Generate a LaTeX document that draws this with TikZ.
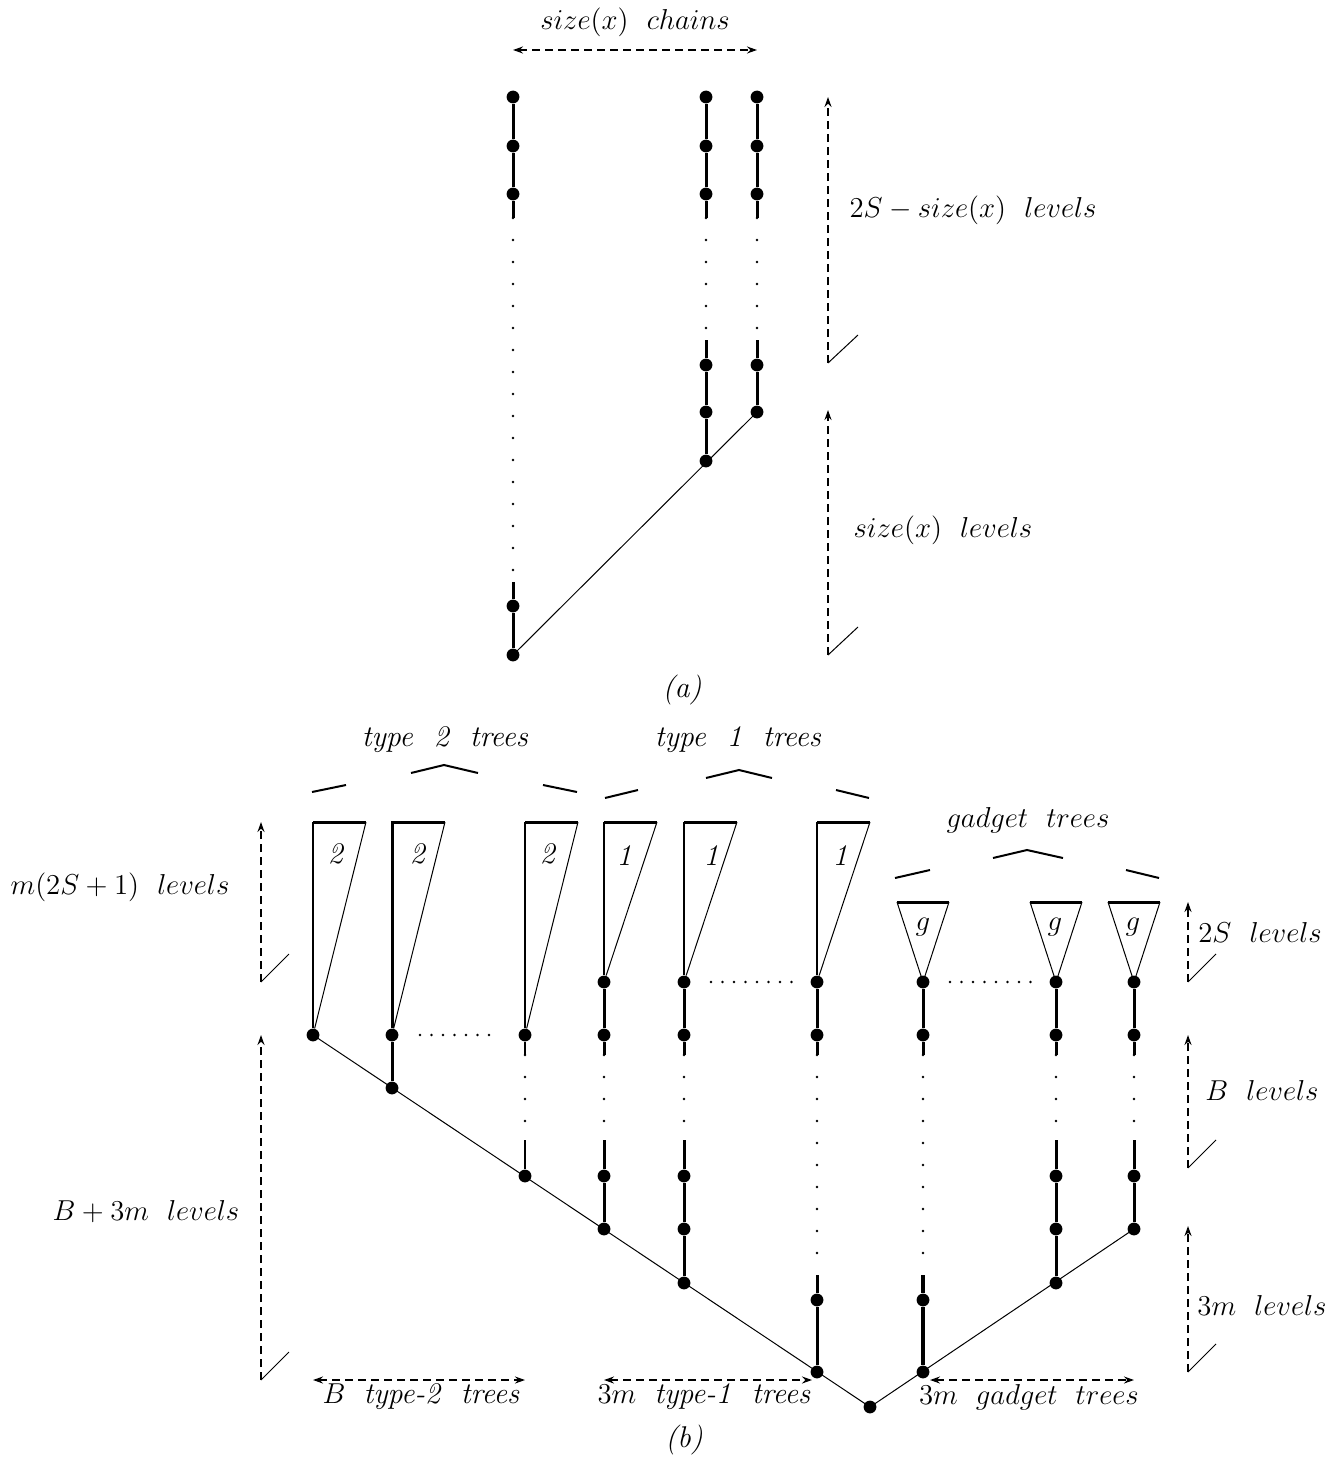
\documentclass[tikz,border=0pt]{standalone}
\usetikzlibrary{arrows.meta}
\begin{document}
\begin{tikzpicture}[x=0.5pt,y=-0.5pt,
  dotn/.style={circle,fill=black,inner sep=0pt,minimum size=6.4pt},
  thk/.style={line width=1.5pt},
  mid/.style={line width=1pt},
  thn/.style={line width=0.5pt},
  vdots/.style={line width=1.4pt,line cap=round,dash pattern=on 0pt off 11pt},
  hdots/.style={line width=1.4pt,line cap=round,dash pattern=on 0pt off 5.75pt},
  dsh/.style={line width=1pt,dash pattern=on 4pt off 2.5pt},
  arr/.style={dsh,-{Stealth[length=5pt,width=3.5pt]}},
  darr/.style={dsh,{Stealth[length=5pt,width=3.5pt]}-{Stealth[length=5pt,width=3.5pt]}},
  brc/.style={line width=1pt},
  lbl/.style={font=\fontsize{15}{18}\selectfont,inner sep=0pt}]
\useasboundingbox (0,0) rectangle (1339,1461);

% ---------------- part (a) ----------------
\node[lbl] (ttl) at (635,22) {$size(x)\ \ chains$};
\coordinate (Ta) at (513,50);
\coordinate (Tb) at (757,50);
\draw[darr] (Ta) -- (Tb);

% chain 1
\node[dotn] (a11) at (513,97) {};
\node[dotn] (a12) at (513,146) {};
\node[dotn] (a13) at (513,194) {};
\coordinate (a1s) at (513,218);
\coordinate (a1e) at (513,582);
\node[dotn] (a14) at (513,606) {};
\node[dotn] (a1r) at (513,655) {};
\draw[thk] (a11) -- (a12) -- (a13) -- (a1s);
\draw[vdots] (a1s) -- (a1e);
\draw[thk] (a1e) -- (a14) -- (a1r);

% chain 2
\node[dotn] (a21) at (706,97) {};
\node[dotn] (a22) at (706,146) {};
\node[dotn] (a23) at (706,194) {};
\coordinate (a2s) at (706,218);
\coordinate (a2e) at (706,340);
\node[dotn] (a24) at (706,365) {};
\node[dotn] (a25) at (706,412) {};
\node[dotn] (a2r) at (706,461) {};
\draw[thk] (a21) -- (a22) -- (a23) -- (a2s);
\draw[vdots] (a2s) -- (a2e);
\draw[thk] (a2e) -- (a24) -- (a25) -- (a2r);

% chain 3
\node[dotn] (a31) at (757,97) {};
\node[dotn] (a32) at (757,146) {};
\node[dotn] (a33) at (757,194) {};
\coordinate (a3s) at (757,218);
\coordinate (a3e) at (757,340);
\node[dotn] (a34) at (757,365) {};
\node[dotn] (a3r) at (757,412) {};
\draw[thk] (a31) -- (a32) -- (a33) -- (a3s);
\draw[vdots] (a3s) -- (a3e);
\draw[thk] (a3e) -- (a34) -- (a3r);

\draw[thn] (a1r.center) -- (a3r.center);

% level arrows (a)
\coordinate (A1b) at (828,363);
\coordinate (A1t) at (828,97);
\coordinate (A1k) at (858,335);
\draw[arr] (A1b) -- (A1t);
\draw[thn] (A1b) -- (A1k);
\node[lbl] (A1l) at (973,210) {$2S - size(x)\ \ levels$};

\coordinate (A2b) at (828,655);
\coordinate (A2t) at (828,410);
\coordinate (A2k) at (858,627);
\draw[arr] (A2b) -- (A2t);
\draw[thn] (A2b) -- (A2k);
\node[lbl] (A2l) at (943,530) {$size(x)\ \ levels$};

\node[lbl] (capa) at (682,690) {\textit{(a)}};

% ---------------- part (b) ----------------
% braces
\node[lbl] (bt2) at (445,740) {\textit{type\ \ 2\ \ trees}};
\draw[brc] (312,792) -- (346,785);
\draw[brc] (411,773) -- (444,765) -- (478,773);
\draw[brc] (543,785) -- (577,792);

\node[lbl] (bt1) at (738,740) {\textit{type\ \ 1\ \ trees}};
\draw[brc] (605,798) -- (638,790);
\draw[brc] (706,778) -- (739,770) -- (772,778);
\draw[brc] (836,790) -- (869,798);

\node[lbl] (bg) at (1028,820) {$gadget\ \ trees$};
\draw[brc] (895,878) -- (930,870);
\draw[brc] (993,858) -- (1027,850) -- (1063,858);
\draw[brc] (1126,870) -- (1159,878);

% root
\node[dotn] (root) at (870,1407) {};

% type-2 trees
\node[dotn] (p1) at (313,1035) {};
\draw[thk] (366,822) -- (313,822);
\draw[mid] (313,822) -- (p1);
\draw[thn] (366,822) -- (p1);
\node[lbl] (p1l) at (336,854) {\textit{2}};

\node[dotn] (p2) at (392,1035) {};
\node[dotn] (p2b) at (392,1088) {};
\draw[thk] (445,822) -- (392,822) -- (p2);
\draw[thn] (445,822) -- (p2);
\draw[thk] (p2) -- (p2b);
\node[lbl] (p2l) at (418,854) {\textit{2}};

\node[dotn] (p3) at (525,1035) {};
\node[dotn] (p3b) at (525,1176) {};
\draw[thk] (578,822) -- (525,822);
\draw[mid] (525,822) -- (p3);
\draw[thn] (578,822) -- (p3);
\node[lbl] (p3l) at (548,854) {\textit{2}};
\coordinate (p3s) at (525,1055);
\coordinate (p3e) at (525,1140);
\draw[mid] (p3) -- (p3s);
\draw[vdots] (p3s) -- (p3e);
\draw[mid] (p3e) -- (p3b);

\draw[hdots] (420,1035) -- (500,1035);

% type-1 trees
% tree 1
\node[dotn] (q11) at (604,982) {};
\node[dotn] (q12) at (604,1035) {};
\node[dotn] (q13) at (604,1176) {};
\node[dotn] (q14) at (604,1229) {};
\draw[thk] (657,822) -- (604,822);
\draw[mid] (604,822) -- (q11);
\draw[thn] (657,822) -- (q11);
\node[lbl] (q1l) at (624,856) {\textit{1}};
\coordinate (q1s) at (604,1055);
\coordinate (q1e) at (604,1140);
\draw[thk] (q11) -- (q12) -- (q1s);
\draw[vdots] (q1s) -- (q1e);
\draw[thk] (q1e) -- (q13) -- (q14);

% tree 2
\node[dotn] (q21) at (684,982) {};
\node[dotn] (q22) at (684,1035) {};
\node[dotn] (q23) at (684,1176) {};
\node[dotn] (q24) at (684,1229) {};
\node[dotn] (q25) at (684,1283) {};
\draw[thk] (737,822) -- (684,822);
\draw[mid] (684,822) -- (q21);
\draw[thn] (737,822) -- (q21);
\node[lbl] (q2l) at (711,856) {\textit{1}};
\coordinate (q2s) at (684,1055);
\coordinate (q2e) at (684,1140);
\draw[thk] (q21) -- (q22) -- (q2s);
\draw[vdots] (q2s) -- (q2e);
\draw[thk] (q2e) -- (q23) -- (q24) -- (q25);

% tree 3
\node[dotn] (q31) at (817,982) {};
\node[dotn] (q32) at (817,1035) {};
\node[dotn] (q33) at (817,1300) {};
\node[dotn] (q34) at (817,1372) {};
\draw[thk] (870,822) -- (817,822);
\draw[mid] (817,822) -- (q31);
\draw[thn] (870,822) -- (q31);
\node[lbl] (q3l) at (840,856) {\textit{1}};
\coordinate (q3s) at (817,1055);
\coordinate (q3e) at (817,1275);
\draw[thk] (q31) -- (q32) -- (q3s);
\draw[vdots] (q3s) -- (q3e);
\draw[thk] (q3e) -- (q33) -- (q34);

\draw[hdots] (711,982) -- (792,982);

% gadget trees
% g1
\node[dotn] (g11) at (923,982) {};
\node[dotn] (g12) at (923,1035) {};
\node[dotn] (g13) at (923,1300) {};
\node[dotn] (g14) at (923,1372) {};
\draw[thk] (897,902) -- (949,902);
\draw[thn] (897,902) -- (g11.center) -- (949,902);
\node[lbl] (g1l) at (923,927) {$g$};
\coordinate (g1s) at (923,1055);
\coordinate (g1e) at (923,1275);
\draw[thk] (g11) -- (g12) -- (g1s);
\draw[vdots] (g1s) -- (g1e);
\draw[line width=2pt] (g1e) -- (g13) -- (g14);

% g2
\node[dotn] (g21) at (1056,982) {};
\node[dotn] (g22) at (1056,1035) {};
\node[dotn] (g23) at (1056,1176) {};
\node[dotn] (g24) at (1056,1229) {};
\node[dotn] (g25) at (1056,1283) {};
\draw[thk] (1030,902) -- (1082,902);
\draw[thn] (1030,902) -- (g21.center) -- (1082,902);
\node[lbl] (g2l) at (1055,927) {$g$};
\coordinate (g2s) at (1056,1055);
\coordinate (g2e) at (1056,1140);
\draw[thk] (g21) -- (g22) -- (g2s);
\draw[vdots] (g2s) -- (g2e);
\draw[thk] (g2e) -- (g23) -- (g24) -- (g25);

% g3
\node[dotn] (g31) at (1134,982) {};
\node[dotn] (g32) at (1134,1035) {};
\node[dotn] (g33) at (1134,1176) {};
\node[dotn] (g34) at (1134,1229) {};
\draw[thk] (1108,902) -- (1160,902);
\draw[thn] (1108,902) -- (g31.center) -- (1160,902);
\node[lbl] (g3l) at (1133,927) {$g$};
\coordinate (g3s) at (1134,1055);
\coordinate (g3e) at (1134,1140);
\draw[thk] (g31) -- (g32) -- (g3s);
\draw[vdots] (g3s) -- (g3e);
\draw[thk] (g3e) -- (g33) -- (g34);

\draw[hdots] (950,982) -- (1032,982);

% backbone diagonals
\draw[thn] (p1.center) -- (root.center) -- (g34.center);

% left level arrows
\coordinate (L1b) at (261,982);
\coordinate (L1t) at (261,822);
\coordinate (L1k) at (289,954);
\draw[arr] (L1b) -- (L1t);
\draw[thn] (L1b) -- (L1k);
\node[lbl] (L1l) at (120,887) {$m(2S+1)\ \ levels$};

\coordinate (L2b) at (261,1380);
\coordinate (L2t) at (261,1035);
\coordinate (L2k) at (289,1352);
\draw[arr] (L2b) -- (L2t);
\draw[thn] (L2b) -- (L2k);
\node[lbl] (L2l) at (146,1212) {$B+3m\ \ levels$};

% right level arrows
\coordinate (R1b) at (1188,982);
\coordinate (R1t) at (1188,902);
\coordinate (R1k) at (1216,954);
\draw[arr] (R1b) -- (R1t);
\draw[thn] (R1b) -- (R1k);
\node[lbl] (R1l) at (1260,932) {$2S\ \ levels$};

\coordinate (R2b) at (1188,1168);
\coordinate (R2t) at (1188,1035);
\coordinate (R2k) at (1216,1140);
\draw[arr] (R2b) -- (R2t);
\draw[thn] (R2b) -- (R2k);
\node[lbl] (R2l) at (1262,1090) {$B\ \ levels$};

\coordinate (R3b) at (1188,1372);
\coordinate (R3t) at (1188,1226);
\coordinate (R3k) at (1216,1344);
\draw[arr] (R3b) -- (R3t);
\draw[thn] (R3b) -- (R3k);
\node[lbl] (R3l) at (1262,1305) {$3m\ \ levels$};

% bottom count arrows
\coordinate (B1a) at (313,1380);
\coordinate (B1b) at (525,1380);
\draw[darr] (B1a) -- (B1b);
\node[lbl] (B1l) at (421,1397) {$B$\ \ \textit{type-2\ \ trees}};

\coordinate (B2a) at (604,1380);
\coordinate (B2b) at (812,1380);
\draw[darr] (B2a) -- (B2b);
\node[lbl] (B2l) at (704,1397) {$3m$\ \ \textit{type-1\ \ trees}};

\coordinate (B3a) at (930,1380);
\coordinate (B3b) at (1134,1380);
\draw[darr] (B3a) -- (B3b);
\node[lbl] (B3l) at (1029,1397) {$3m$\ \ $gadget\ \ trees$};

\node[lbl] (capb) at (684,1440) {\textit{(b)}};
\end{tikzpicture}
\end{document}
